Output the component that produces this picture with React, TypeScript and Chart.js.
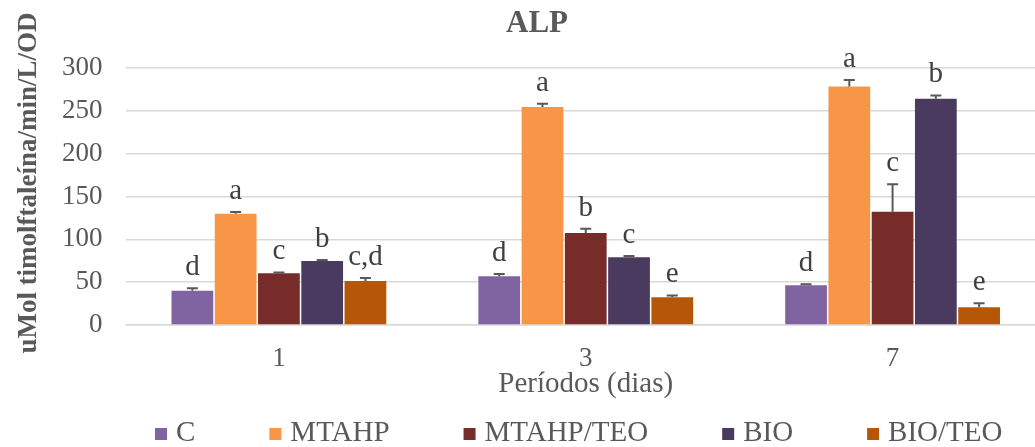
import React, { useEffect, useRef } from 'react';
import { Chart, registerables } from 'chart.js';

Chart.register(...registerables);

const categories = ['1', '3', '7'];
const seriesNames = ['C', 'MTAHP', 'MTAHP/TEO', 'BIO', 'BIO/TEO'];
const seriesColors = ['#8064A2', '#F79646', '#772C2A', '#4B3A5F', '#B65708'];

const valuesC = [40, 57, 46.3];
const valuesMTAHP = [130, 254.5, 278.5];
const valuesMTAHPTEO = [60.3, 107.3, 132.3];
const valuesBIO = [74.7, 79, 264];
const valuesBIOTEO = [51.3, 32.5, 20.6];

const errC = [2.8, 2.5, 1.2];
const errMTAHP = [2, 3.8, 7.5];
const errMTAHPTEO = [1.1, 5, 32];
const errBIO = [1.3, 1.5, 4];
const errBIOTEO = [3.5, 2, 4.7];

const lettersC = ['d', 'd', 'd'];
const lettersMTAHP = ['a', 'a', 'a'];
const lettersMTAHPTEO = ['c', 'b', 'c'];
const lettersBIO = ['b', 'c', 'b'];
const lettersBIOTEO = ['c,d', 'e', 'e'];

const yMin = 0;
const yMax = 300;
const yStep = 50;

const chartTitle = 'ALP';
const yTitle = '    uMol timolftaleína/min/L/OD';
const xTitle = 'Períodos (dias)';

const FONT = "'Liberation Serif', 'Times New Roman', serif";
const TEXT = '#595959';

const allValues = [valuesC, valuesMTAHP, valuesMTAHPTEO, valuesBIO, valuesBIOTEO];
const allErrors = [errC, errMTAHP, errMTAHPTEO, errBIO, errBIOTEO];
const allLetters = [lettersC, lettersMTAHP, lettersMTAHPTEO, lettersBIO, lettersBIOTEO];

const errorBarPlugin = {
  id: 'errorBarsLetters',
  afterDatasetsDraw(chart: any) {
    const ctx = chart.ctx;
    const yScale = chart.scales.y;
    chart.data.datasets.forEach((ds: any, i: number) => {
      const meta = chart.getDatasetMeta(i);
      meta.data.forEach((bar: any, j: number) => {
        const v = ds.data[j];
        const e = ds.errors[j];
        const top = yScale.getPixelForValue(v + e);
        ctx.save();
        ctx.strokeStyle = '#595959';
        ctx.lineWidth = 2;
        ctx.beginPath();
        ctx.moveTo(bar.x, bar.y);
        ctx.lineTo(bar.x, top);
        ctx.moveTo(bar.x - 5.5, top);
        ctx.lineTo(bar.x + 5.5, top);
        ctx.stroke();
        ctx.font = `29px ${FONT}`;
        ctx.fillStyle = '#404040';
        ctx.textAlign = 'center';
        ctx.textBaseline = 'alphabetic';
        ctx.fillText(ds.letters[j], bar.x, top - 13);
        ctx.restore();
      });
    });
  },
};

const legendPlugin = {
  id: 'customLegend',
  afterDraw(chart: any) {
    const ctx = chart.ctx;
    const area = chart.chartArea;
    const box = 12;
    const textGap = 9;
    const itemGap = 74;
    ctx.save();
    ctx.font = `29px ${FONT}`;
    const items = chart.data.datasets.map((ds: any) => ({
      label: ds.label,
      color: ds.backgroundColor,
      w: ctx.measureText(ds.label).width,
    }));
    const total =
      items.reduce((s: number, it: any) => s + box + textGap + it.w, 0) + itemGap * (items.length - 1);
    let x = (area.left + area.right) / 2 - 7 - total / 2;
    const yc = 433;
    items.forEach((it: any) => {
      ctx.fillStyle = it.color;
      ctx.fillRect(x, yc - box / 2 + 1, box, box);
      ctx.fillStyle = TEXT;
      ctx.textAlign = 'left';
      ctx.textBaseline = 'middle';
      ctx.fillText(it.label, x + box + textGap, yc);
      x += box + textGap + it.w + itemGap;
    });
    ctx.restore();
  },
};

export default function App() {
  const canvasRef = useRef<HTMLCanvasElement | null>(null);

  useEffect(() => {
    if (!canvasRef.current) return;
    const chart = new Chart(canvasRef.current, {
      type: 'bar',
      data: {
        labels: categories,
        datasets: seriesNames.map((name, i) => ({
          label: name,
          data: allValues[i],
          errors: allErrors[i],
          letters: allLetters[i],
          backgroundColor: seriesColors[i],
          borderWidth: 0,
          categoryPercentage: 0.705,
          barPercentage: 0.965,
        })) as any,
      },
      options: {
        responsive: false,
        animation: false,
        layout: { padding: { left: 28, right: 28, top: 0, bottom: 50 } },
        plugins: {
          legend: { display: false },
          tooltip: { enabled: false },
          title: {
            display: true,
            text: chartTitle,
            color: TEXT,
            font: { family: FONT, size: 31, weight: 'bold', lineHeight: 1.2 },
            padding: { top: 5.4, bottom: 25.4 },
          },
        },
        scales: {
          x: {
            grid: { display: false },
            border: { display: true, color: '#D9D9D9', width: 1.5 },
            ticks: {
              color: TEXT,
              font: { family: FONT, size: 27, lineHeight: 1.2 },
              padding: 10,
            },
            title: {
              display: true,
              text: xTitle,
              color: TEXT,
              font: { family: FONT, size: 29, lineHeight: 1.2 },
              padding: { top: -4.4, bottom: -4.4 },
            },
            afterFit(scale: any) {
              scale.height = 72;
            },
          },
          y: {
            min: yMin,
            max: yMax,
            ticks: {
              stepSize: yStep,
              color: TEXT,
              font: { family: FONT, size: 27, lineHeight: 1.2 },
              padding: 23,
            },
            grid: { color: '#D9D9D9', lineWidth: 1.5, drawTicks: false },
            border: { display: false },
            title: {
              display: true,
              text: yTitle,
              color: TEXT,
              font: { family: FONT, size: 27, weight: 'bold', lineHeight: 1.2 },
              padding: { top: -15, bottom: -15 },
            },
            afterFit(scale: any) {
              scale.width = 97.5;
            },
          },
        },
      },
      plugins: [errorBarPlugin, legendPlugin],
    });
    return () => chart.destroy();
  }, []);

  return (
    <div style={{ width: 1074, height: 447, overflow: 'hidden' }}>
      <style>{`html,body{margin:0;padding:0;overflow:hidden;}`}</style>
      <canvas ref={canvasRef} width={1074} height={447} style={{ display: 'block' }} />
    </div>
  );
}
